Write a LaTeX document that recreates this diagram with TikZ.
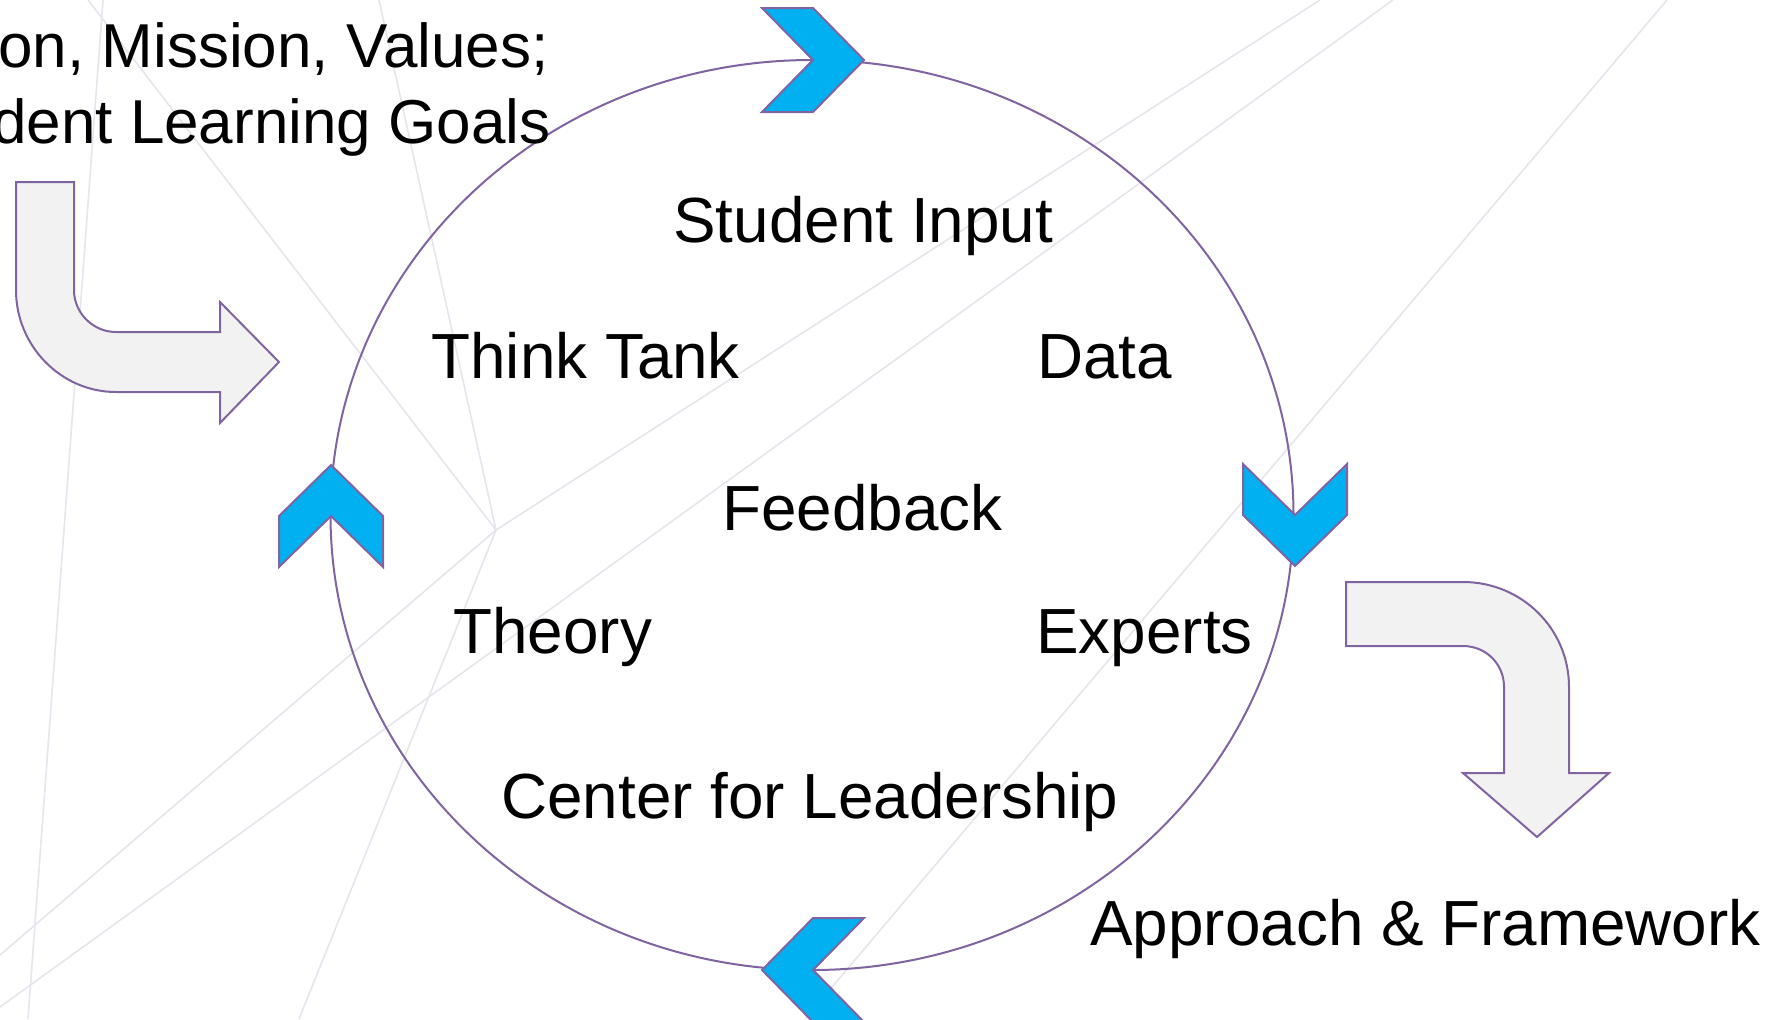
\documentclass[tikz,border=0pt]{standalone}
\usepackage{fontspec}
\setmainfont{Liberation Sans}
\usetikzlibrary{calc}
\definecolor{ringpurple}{HTML}{8064A2}
\definecolor{chevblue}{HTML}{00B0F0}
\definecolor{arrowgrey}{HTML}{F2F2F2}
\definecolor{meshgrey}{HTML}{E6E4EC}
\tikzstyle{word}=[inner sep=0pt, anchor=base west, font=\fontsize{31.9}{38}\selectfont]
\tikzstyle{goals}=[inner sep=0pt, anchor=base east, font=\fontsize{31}{37}\selectfont]
\tikzstyle{chevron}=[draw=ringpurple, line width=1pt, fill=chevblue, line join=miter]
\tikzstyle{bent}=[draw=ringpurple, line width=1pt, fill=arrowgrey]
\tikzstyle{mesh}=[draw=meshgrey, line width=0.8pt]
\newcommand{\chev}[2]{%
  \begin{scope}[shift={(#1)}, rotate=#2]
    \filldraw[chevron] (-51,-52) -- (0,-52) -- (51,0) -- (0,52) -- (-51,52) -- (0,0) -- cycle;
  \end{scope}}

\begin{document}
\begin{tikzpicture}[x=0.5pt, y=-0.5pt]
	\useasboundingbox (0,0) rectangle (1770,1019);
	\clip (0,0) rectangle (1770,1019);
	%% the faint mesh in the background
	\coordinate (p) at (496,530);
	\draw[mesh] (103,0) -- (28,1019);
	\draw[mesh] (88,0) -- (p) -- (0,955);
	\draw[mesh] (379,0) -- (p) -- (299,1019);
	\draw[mesh] (1320,0) -- (p);
	\draw[mesh] (1393,0) -- (0,1007);
	\draw[mesh] (1667,0) -- (805,1019);
	%% the cycle
	\draw[ringpurple, line width=1pt] (812,515) ellipse [x radius=240.75pt, y radius=227.5pt];
	\chev{813,60}{0}
	\chev{1295,515}{-90}
	\chev{813,970}{180}
	\chev{331,516}{90}
	%% the bent arrows
	\filldraw[bent] (16,182) -- (74,182) -- (74,290)
		.. controls (74,313) and (93,332) .. (116,332)
		-- (220,332) -- (220,302) -- (279,362) -- (220,423) -- (220,392) -- (116,392)
		.. controls (61,392) and (16,346) .. (16,290) -- cycle;
	\filldraw[bent] (1346,582) -- (1463,582)
		.. controls (1522,582) and (1569,629) .. (1569,687)
		-- (1569,773) -- (1609,773) -- (1537,837) -- (1463,773) -- (1504,773) -- (1504,687)
		.. controls (1504,664) and (1486,646) .. (1463,646) -- (1346,646) -- cycle;
	%% the words
	\node[goals] (vmv) at (549,67) {on, Mission, Values;};
	\node[goals] (slg) at (551,143) {dent Learning Goals};
	\node[word] (si) at (673,242) {Student Input};
	\node[word] (tt) at (431,378) {Think Tank};
	\node[word] (data) at (1037,378) {Data};
	\node[word] (fb) at (722,530) {Feedback};
	\node[word] (th) at (453,653) {Theory};
	\node[word] (ex) at (1036,653) {Experts};
	\node[word] (cfl) at (501,818) {Center for Leadership};
	\node[word] (af) at (1090,945) {Approach \& Framework};
\end{tikzpicture}
\end{document}
